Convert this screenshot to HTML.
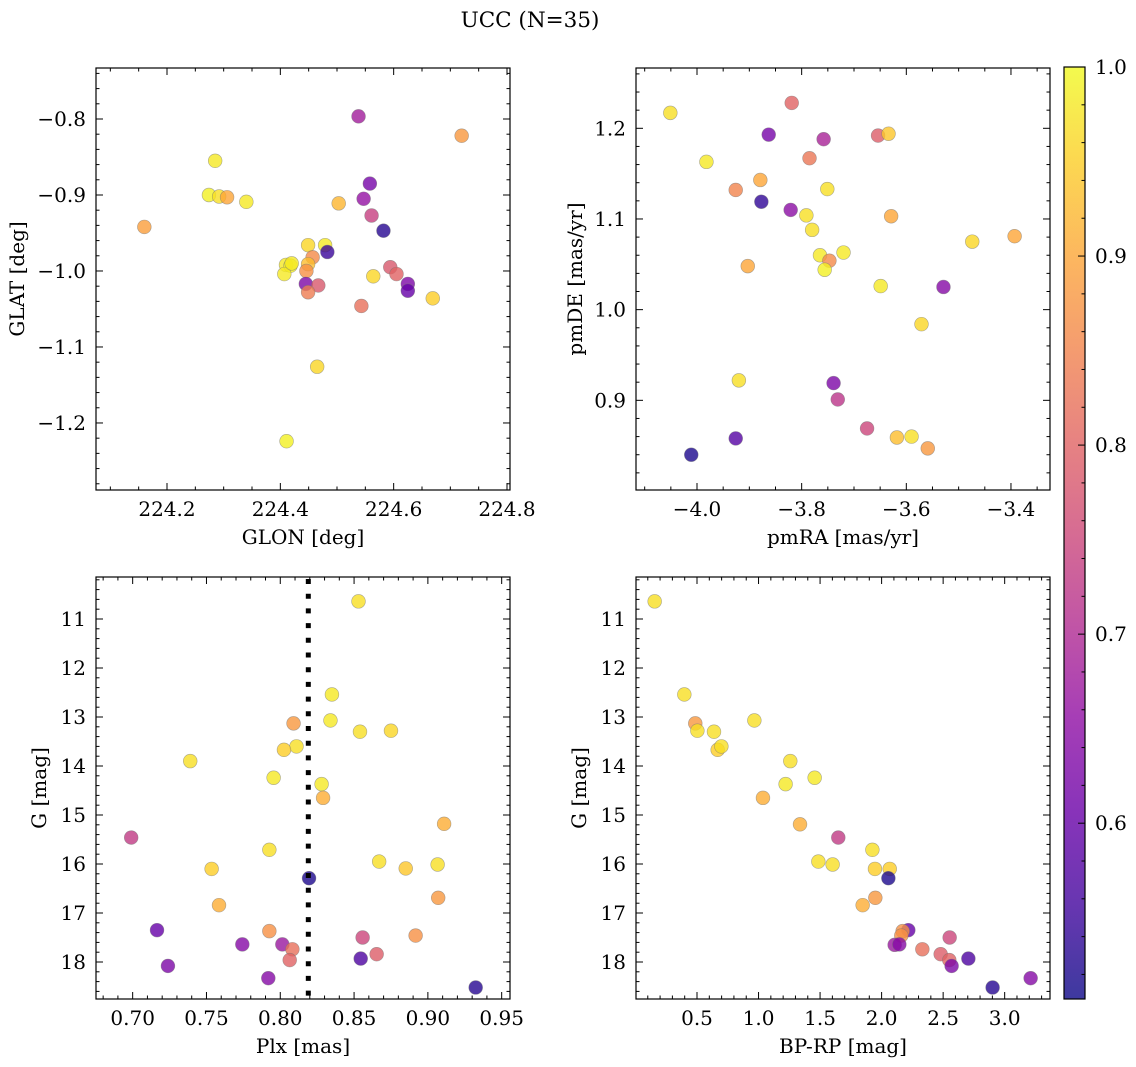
<!DOCTYPE html>
<html>
<head>
<meta charset="utf-8">
<style>
  html,body{margin:0;padding:0;background:#fff;}
  svg{display:block;}
  text{font-family:"DejaVu Serif","Liberation Serif",serif;fill:#000;}
</style>
</head>
<body>
<svg id="chart" width="1136" height="1067" viewBox="0 0 1136 1067" xmlns="http://www.w3.org/2000/svg">
  <text x="530" y="27" text-anchor="middle" font-size="21.5">UCC (N=35)</text>
</svg>
<script>
// ---------- Data ----------
// Panel 1: GLON vs GLAT
const glon = [224.538,224.720,224.285,224.274,224.292,224.306,224.340,224.160,224.503,224.558,224.547,224.561,224.582,224.449,224.479,224.483,224.457,224.449,224.410,224.418,224.446,224.407,224.445,224.467,224.449,224.594,224.605,224.564,224.625,224.625,224.669,224.543,224.465,224.411,224.420];
const glat = [-0.7965,-0.822,-0.855,-0.900,-0.902,-0.903,-0.909,-0.942,-0.911,-0.885,-0.905,-0.927,-0.947,-0.966,-0.966,-0.975,-0.982,-0.991,-0.992,-0.993,-1.000,-1.004,-1.017,-1.019,-1.028,-0.995,-1.004,-1.007,-1.017,-1.026,-1.036,-1.046,-1.126,-1.224,-0.990];
const prob1 = [0.68,0.88,0.98,0.99,0.97,0.90,0.98,0.89,0.92,0.62,0.66,0.74,0.53,0.96,0.98,0.55,0.86,0.93,0.98,0.99,0.87,0.98,0.63,0.78,0.84,0.78,0.80,0.96,0.63,0.60,0.95,0.82,0.96,0.99,0.98];
// Panel 2: pmRA vs pmDE
const pmra = [-4.051,-3.819,-3.863,-3.758,-3.654,-3.634,-3.982,-3.785,-3.879,-3.926,-3.751,-3.877,-3.821,-3.791,-3.629,-3.780,-3.765,-3.747,-3.720,-3.756,-3.903,-3.474,-3.393,-3.649,-3.529,-3.571,-3.920,-3.739,-3.731,-3.675,-3.618,-3.590,-3.559,-3.926,-4.011];
const pmde = [1.217,1.228,1.193,1.188,1.192,1.194,1.163,1.167,1.143,1.132,1.133,1.119,1.110,1.104,1.103,1.088,1.060,1.054,1.063,1.044,1.048,1.075,1.081,1.026,1.025,0.984,0.922,0.919,0.901,0.869,0.859,0.860,0.847,0.858,0.840];
const prob2 = [0.97,0.80,0.62,0.69,0.79,0.94,0.98,0.83,0.90,0.85,0.97,0.54,0.65,0.97,0.90,0.97,0.98,0.86,0.98,0.99,0.90,0.96,0.90,0.98,0.64,0.96,0.97,0.63,0.72,0.75,0.93,0.97,0.88,0.58,0.52];
// Panel 3: Plx vs G
const plx = [0.853,0.835,0.834,0.809,0.854,0.875,0.811,0.8025,0.739,0.7955,0.828,0.829,0.699,0.911,0.7926,0.7535,0.867,0.885,0.9066,0.8195,0.7585,0.907,0.7165,0.7926,0.8917,0.8558,0.7743,0.8014,0.8082,0.8064,0.8545,0.8653,0.7239,0.7919,0.9324];
const gmag3 = [10.64,12.54,13.07,13.13,13.30,13.28,13.60,13.67,13.90,14.24,14.37,14.65,15.46,15.18,15.71,16.10,15.95,16.09,16.01,16.29,16.84,16.69,17.35,17.37,17.46,17.50,17.64,17.64,17.74,17.96,17.93,17.84,18.08,18.33,18.52];
const prob3 = [0.97,0.98,0.98,0.88,0.97,0.96,0.97,0.95,0.97,0.98,0.98,0.91,0.73,0.91,0.97,0.95,0.97,0.94,0.97,0.52,0.91,0.88,0.60,0.87,0.87,0.75,0.64,0.67,0.82,0.80,0.57,0.79,0.63,0.64,0.53];
const plxMean = [0.819];
// Panel 4: BP-RP vs G
const bprp = [0.156,0.397,0.486,0.503,0.638,0.668,0.698,0.966,1.258,1.220,1.456,1.036,1.337,1.648,1.925,1.486,1.602,1.946,2.066,2.055,1.846,1.949,2.217,2.171,2.160,2.553,2.106,2.331,2.480,2.550,2.705,2.569,3.211,2.902,2.144];
const gmag4 = [10.64,12.54,13.13,13.28,13.30,13.67,13.60,13.07,13.90,14.37,14.24,14.65,15.19,15.46,15.71,15.95,16.01,16.10,16.10,16.29,16.84,16.69,17.35,17.37,17.46,17.50,17.65,17.74,17.84,17.96,17.93,18.08,18.33,18.52,17.64];
const prob4 = [0.97,0.97,0.88,0.97,0.97,0.95,0.97,0.97,0.97,0.98,0.98,0.91,0.91,0.73,0.97,0.97,0.97,0.95,0.95,0.52,0.91,0.88,0.60,0.87,0.87,0.75,0.67,0.82,0.79,0.80,0.57,0.63,0.64,0.53,0.64];
// Tick labels
const ticks1x = [224.2,224.4,224.6,224.8];
const ticks1y = [-0.8,-0.9,-1.0,-1.1,-1.2];
const ticks2x = [-4.0,-3.8,-3.6,-3.4];
const ticks2y = [1.2,1.1,1.0,0.9];
const ticks3x = [0.70,0.75,0.80,0.85,0.90,0.95];
const ticksGy = [11,12,13,14,15,16,17,18];
const ticks4x = [0.5,1.0,1.5,2.0,2.5,3.0];
const ticksCb = [0.6,0.7,0.8,0.9,1.0];
const cbRange = [0.507,1.0];

// ---------- Rendering ----------
const NS = "http://www.w3.org/2000/svg";
const svg = document.getElementById('chart');
const FS = 20;
function mk(tag, attrs, parent){
  const e = document.createElementNS(NS, tag);
  for (const k in attrs) e.setAttribute(k, attrs[k]);
  (parent||svg).appendChild(e);
  return e;
}
const plasma = ["#0d0887","#41049d","#6a00a8","#8f0da4","#b12a90","#cc4778","#e16462","#f2844b","#fca636","#fcce25","#f0f921"];
function hex2rgb(h){return [parseInt(h.substr(1,2),16),parseInt(h.substr(3,2),16),parseInt(h.substr(5,2),16)];}
function cmap(v){
  let t = (v - cbRange[0])/(cbRange[1]-cbRange[0]);
  t = Math.max(0, Math.min(1, t));
  const s = t*10, i = Math.min(9, Math.floor(s)), f = s - i;
  const a = hex2rgb(plasma[i]), b = hex2rgb(plasma[i+1]);
  return "rgb(" + a.map((c,j)=>Math.round(c+(b[j]-c)*f)).join(",") + ")";
}
function fmt(v, d){ const s = Math.abs(v).toFixed(d); return (v < 0 ? "\u2212" : "") + s; }

function panel(cfg){
  const g = mk('g', {});
  
  
  const sx = v => cfg.x0 + (v - cfg.xmin)/(cfg.xmax - cfg.xmin)*cfg.w;
  const sy = v => cfg.y0 + (cfg.ytop - v)/(cfg.ytop - cfg.ybot)*cfg.h;
  const mt = mk('g', {stroke:'#000','stroke-width':1}, g);
  
  
  const lo = Math.min(cfg.xmin,cfg.xmax), hi = Math.max(cfg.xmin,cfg.xmax);
  for (let k = Math.ceil(lo/cfg.xminor - 1e-6); k*cfg.xminor <= hi + 1e-9; k++){
    const v = k*cfg.xminor, x = sx(v);
    const major = Math.abs(v/cfg.xmajor - Math.round(v/cfg.xmajor)) < 1e-6;
    const L = major ? 7 : 3.5;
    mk('line', {x1:x, x2:x, y1:cfg.y0+cfg.h, y2:cfg.y0+cfg.h-L}, mt);
    mk('line', {x1:x, x2:x, y1:cfg.y0, y2:cfg.y0+L}, mt);
  }
  const ylo = Math.min(cfg.ytop,cfg.ybot), yhi = Math.max(cfg.ytop,cfg.ybot);
  for (let k = Math.ceil(ylo/cfg.yminor - 1e-6); k*cfg.yminor <= yhi + 1e-9; k++){
    const v = k*cfg.yminor, y = sy(v);
    const major = Math.abs(v/cfg.ymajor - Math.round(v/cfg.ymajor)) < 1e-6;
    const L = major ? 7 : 3.5;
    mk('line', {x1:cfg.x0, x2:cfg.x0+L, y1:y, y2:y}, mt);
    mk('line', {x1:cfg.x0+cfg.w, x2:cfg.x0+cfg.w-L, y1:y, y2:y}, mt);
  }
  cfg.xt.forEach(v => {
    const t = mk('text', {x:sx(v), y:cfg.y0+cfg.h+26, 'text-anchor':'middle','font-size':FS}, g);
    
    
    t.textContent = fmt(v, cfg.xd);
  });
  cfg.yt.forEach(v => {
    const t = mk('text', {x:cfg.x0-10, y:sy(v)+7, 'text-anchor':'end','font-size':FS}, g);
    
    
    t.textContent = fmt(v, cfg.yd);
  });
  const xl = mk('text', {x:cfg.x0+cfg.w/2, y:cfg.y0+cfg.h+54, 'text-anchor':'middle','font-size':FS}, g);
  
  
  xl.textContent = cfg.xlabel;
  const yx = cfg.ylx, yy = cfg.y0+cfg.h/2;
  const yl = mk('text', {x:yx, y:yy, 'text-anchor':'middle','font-size':FS, transform:'rotate(-90 '+yx+' '+yy+')'}, g);
  
  
  yl.textContent = cfg.ylabel;
  const cid = cfg.name + '-clip';
  const cp = mk('clipPath', {id:cid}, g);
  mk('rect', {x:cfg.x0, y:cfg.y0, width:cfg.w, height:cfg.h}, cp);
  const pts = mk('g', {'clip-path':'url(#'+cid+')'}, g);
  
  
  cfg.xs.forEach((xv, i) => {
    const c = mk('circle', {cx:sx(xv), cy:sy(cfg.ys[i]), r:6.9, fill:cmap(cfg.ps[i]), 'fill-opacity':0.8, stroke:'#777','stroke-opacity':0.6,'stroke-width':0.6}, pts);
    
    
  });
  if (cfg.vlineTop){
    cfg.vlineTop.forEach(v => {
      const ln = mk('line', {x1:sx(v), x2:sx(v), y1:cfg.y0+2, y2:cfg.y0+cfg.h, stroke:'#000','stroke-width':5,'stroke-dasharray':'5 9.7'}, pts);
      
      
    });
  }
  const fr = mk('rect', {x:cfg.x0, y:cfg.y0, width:cfg.w, height:cfg.h, fill:'none', stroke:'#000','stroke-width':1.2}, g);
  
  
}

panel({name:'glon-glat-panel', x0:96, y0:68, w:414, h:422, xmin:224.0747, xmax:224.8053, ytop:-0.7329, ybot:-1.2882,
  xminor:0.05, xmajor:0.2, yminor:0.02, ymajor:0.1, xt:ticks1x, yt:ticks1y, xd:1, yd:1,
  xlabel:'GLON [deg]', ylabel:'GLAT [deg]', ylx:24, xs:glon, ys:glat, ps:prob1});
panel({name:'pm-panel', x0:636, y0:68, w:414, h:422, xmin:-4.1166, xmax:-3.3254, ytop:1.2665, ybot:0.8011,
  xminor:0.05, xmajor:0.2, yminor:0.02, ymajor:0.1, xt:ticks2x, yt:ticks2y, xd:1, yd:1,
  xlabel:'pmRA [mas/yr]', ylabel:'pmDE [mas/yr]', ylx:582, xs:pmra, ys:pmde, ps:prob2});
panel({name:'plx-g-panel', x0:96, y0:577, w:414, h:422, xmin:0.67516, xmax:0.95564, ytop:10.143, ybot:18.755,
  xminor:0.01, xmajor:0.05, yminor:0.2, ymajor:1, xt:ticks3x, yt:ticksGy, xd:2, yd:0,
  xlabel:'Plx [mas]', ylabel:'G [mag]', ylx:46, xs:plx, ys:gmag3, ps:prob3, vlineTop:plxMean});
panel({name:'cmd-panel', x0:636, y0:577, w:414, h:422, xmin:0.0043, xmax:3.3683, ytop:10.143, ybot:18.755,
  xminor:0.1, xmajor:0.5, yminor:0.2, ymajor:1, xt:ticks4x, yt:ticksGy, xd:1, yd:0,
  xlabel:'BP-RP [mag]', ylabel:'G [mag]', ylx:586, xs:bprp, ys:gmag4, ps:prob4});

// ---------- Colorbar ----------
(function(){
  const cx = 1064, cy0 = 67, cw = 21, cy1 = 999;
  const g = mk('g', {});
  
  
  const defs = mk('defs', {}, g);
  const lg = mk('linearGradient', {id:'cbgrad', x1:0, y1:1, x2:0, y2:0}, defs);
  plasma.forEach((c, i) => mk('stop', {offset:(i/10), 'stop-color':c}, lg));
  const r = mk('rect', {x:cx, y:cy0, width:cw, height:cy1-cy0, fill:'url(#cbgrad)', 'fill-opacity':0.8}, g);
  
  
  const sy = v => cy1 - (v - cbRange[0])/(cbRange[1]-cbRange[0])*(cy1-cy0);
  for (let k = Math.ceil(cbRange[0]/0.02 - 1e-6); k*0.02 <= cbRange[1] + 1e-9; k++){
    const v = k*0.02, y = sy(v);
    const major = Math.abs(v*10 - Math.round(v*10)) < 1e-6;
    mk('line', {x1:cx+cw, x2:cx+cw-(major?7:3.5), y1:y, y2:y, stroke:'#000','stroke-width':1}, g);
  }
  ticksCb.forEach(v => {
    const t = mk('text', {x:cx+cw+10, y:sy(v)+7, 'font-size':FS}, g);
    
    
    t.textContent = v.toFixed(1);
  });
  mk('rect', {x:cx, y:cy0, width:cw, height:cy1-cy0, fill:'none', stroke:'#000','stroke-width':1.2}, g);
})();
</script>
</body>
</html>
